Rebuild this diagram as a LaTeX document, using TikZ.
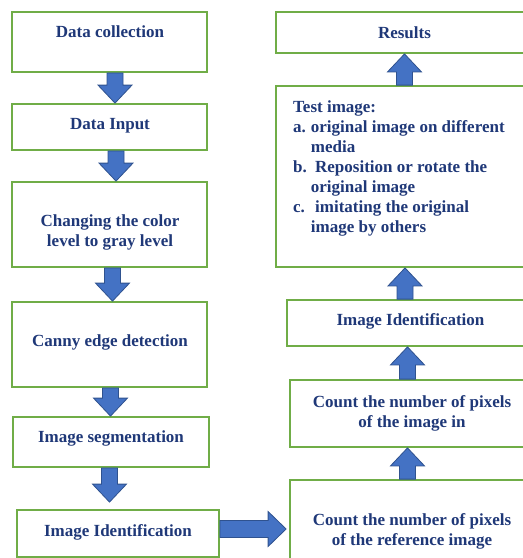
\documentclass[tikz,border=0pt]{standalone}
\usepackage{fontspec}
\setmainfont{Liberation Serif}
\usepackage{xcolor}
\usetikzlibrary{calc}

\definecolor{boxgreen}{RGB}{112,173,71}
\definecolor{arrfill}{RGB}{68,114,196}
\definecolor{arredge}{RGB}{47,82,143}
\definecolor{textnavy}{RGB}{31,56,120}

\tikzset{
  box/.style={rectangle,draw=boxgreen,line width=1.8pt,fill=white},
  lbl/.style={text=textnavy,font=\fontsize{17}{20}\selectfont\bfseries,align=center,inner sep=0pt},
  fatarr/.style={fill=arrfill,draw=arredge,line width=0.8pt}
}

% block arrows between two anchors
\newcommand{\fatdown}[2]{\path[fatarr] let \p1=(#1), \p2=(#2) in
  (\x1-8pt,\y1) -- (\x1+8pt,\y1) -- (\x1+8pt,\y2+18pt) -- (\x1+17pt,\y2+18pt)
  -- (\x1,\y2) -- (\x1-17pt,\y2+18pt) -- (\x1-8pt,\y2+18pt) -- cycle;}
\newcommand{\fatup}[2]{\path[fatarr] let \p1=(#1), \p2=(#2) in
  (\x1-8pt,\y1) -- (\x1+8pt,\y1) -- (\x1+8pt,\y2-18pt) -- (\x1+17pt,\y2-18pt)
  -- (\x1,\y2) -- (\x1-17pt,\y2-18pt) -- (\x1-8pt,\y2-18pt) -- cycle;}
\newcommand{\fatright}[2]{\path[fatarr] let \p1=(#1), \p2=(#2) in
  (\x1,\y1-8.5pt) -- (\x1,\y1+8.5pt) -- (\x2-18pt,\y1+8.5pt) -- (\x2-18pt,\y1+17.5pt)
  -- (\x2,\y1) -- (\x2-18pt,\y1-17.5pt) -- (\x2-18pt,\y1-8.5pt) -- cycle;}

\begin{document}
\begin{tikzpicture}[x=1pt,y=-1pt]
  \useasboundingbox (0,0) rectangle (523,558);
  \clip (0,0) rectangle (523,558);

  % left column
  \node[box,minimum width=195,minimum height=60] (coll) at (109.5,42) {};
  \node[box,minimum width=195,minimum height=46] (input) at (109.5,127) {};
  \node[box,minimum width=195,minimum height=85] (gray) at (109.5,224.5) {};
  \node[box,minimum width=195,minimum height=85] (canny) at (109.5,344.5) {};
  \node[box,minimum width=196,minimum height=50] (seg) at (111,442) {};
  \node[box,minimum width=202,minimum height=47] (ident) at (118,533.5) {};

  \node[lbl] (collText) at (110,32) {Data collection};
  \node[lbl] (inputText) at (110,126) {Data Input};
  \node[lbl] (grayText) at (110,232) {Changing the color\\level to gray level};
  \node[lbl] (cannyText) at (110,342) {Canny edge detection};
  \node[lbl] (segText) at (111,438) {Image segmentation};
  \node[lbl] (identText) at (118,532) {Image Identification};

  % right column
  \node[box,minimum width=257,minimum height=41] (results) at (404.5,32.5) {};
  \node[box,minimum width=257,minimum height=181] (test) at (404.5,176.5) {};
  \node[box,minimum width=247,minimum height=46] (identB) at (410.5,323) {};
  \node[box,minimum width=244,minimum height=67] (pixin) at (412,413.5) {};
  \node[box,minimum width=244,minimum height=110] (pixref) at (412,535) {};

  \node[lbl] (resultsText) at (404.5,33) {Results};
  \node[lbl,anchor=base west,align=left] (testText) at (293,112) {%
    \begin{tabular}[t]{@{}l@{\hspace{4pt}}l@{}}
      \multicolumn{2}{@{}l@{}}{Test image:}\\
      a. & original image on different\\
         & media\\
      b. & \ Reposition or rotate the\\
         & original image\\
      c. & \ imitating the original\\
         & image by others
    \end{tabular}};
  \node[lbl] (identBText) at (410.5,321) {Image Identification};
  \node[lbl] (pixinText) at (412,413) {Count the number of pixels\\of the image in};
  \node[lbl] (pixrefText) at (412,531) {Count the number of pixels\\of the reference image};

  % arrows
  \fatdown{[xshift=5.5pt]coll.south}{input.north}
  \fatdown{[xshift=6.5pt]input.south}{gray.north}
  \fatdown{[xshift=3pt]gray.south}{canny.north}
  \fatdown{[xshift=1pt]canny.south}{seg.north}
  \fatdown{[xshift=-1.5pt]seg.south}{[yshift=7pt]ident.north}
  \fatright{[yshift=4.5pt]ident.east}{[xshift=-3pt]pixref.west}
  \fatup{[xshift=-4.5pt]pixref.north}{pixin.south}
  \fatup{[xshift=-4.5pt]pixin.north}{identB.south}
  \fatup{[xshift=-5.5pt]identB.north}{test.south}
  \fatup{test.north}{results.south}
\end{tikzpicture}
\end{document}
